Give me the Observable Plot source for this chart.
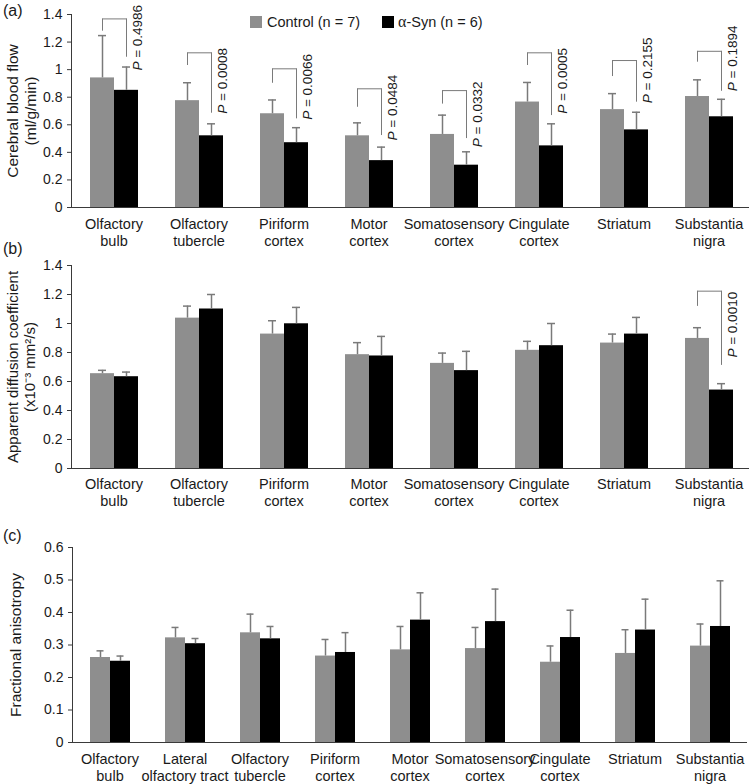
<!DOCTYPE html>
<html><head><meta charset="utf-8">
<script src="https://cdn.jsdelivr.net/npm/d3@7"></script>
<script src="https://cdn.jsdelivr.net/npm/@observablehq/plot@0.6"></script>
<style>
body{margin:0;background:#fff;}
#fig{position:relative;width:749px;height:784px;font-family:"Liberation Sans",Arial,sans-serif;color:#1a1a1a;overflow:hidden;background:#fff}
.panel{position:absolute;left:0}
.plab{position:absolute;left:3px;font-size:16px;line-height:16px}
.leg{position:absolute;font-size:14.5px;line-height:14.5px;white-space:nowrap}
.sw{position:absolute;width:12px;height:12px}
</style></head><body><div id="fig"></div>
<script>
const groups = ["Control", "α-Syn"];
const groupColors = ["#8e8e8e", "#000000"];
const regions8 = ["Olfactory\nbulb","Olfactory\ntubercle","Piriform\ncortex","Motor\ncortex","Somatosensory\ncortex","Cingulate\ncortex","Striatum","Substantia\nnigra"];
const regions9 = ["Olfactory\nbulb","Lateral\nolfactory tract","Olfactory\ntubercle","Piriform\ncortex","Motor\ncortex","Somatosensory\ncortex","Cingulate\ncortex","Striatum","Substantia\nnigra"];

// (a) Cerebral blood flow
const cbfControl    = [0.94, 0.775, 0.68, 0.52, 0.53, 0.765, 0.71, 0.805];
const cbfControlErr = [0.307, 0.13, 0.10, 0.094, 0.14, 0.142, 0.116, 0.121];
const cbfSyn        = [0.85, 0.52, 0.47, 0.34, 0.307, 0.447, 0.563, 0.658];
const cbfSynErr     = [0.169, 0.087, 0.109, 0.098, 0.097, 0.16, 0.128, 0.127];
const cbfP          = ["0.4986","0.0008","0.0066","0.0484","0.0332","0.0005","0.2155","0.1894"];
const cbfBracketTop   = [1.368, 1.122, 1.006, 0.861, 0.848, 1.122, 1.066, 1.133];
const cbfBracketLeft  = [1.279, 1.03, 0.901, 0.727, 0.75, 1.03, 0.95, 1.054];
const cbfBracketRight = [1.09, 0.684, 0.643, 0.522, 0.50, 0.667, 0.764, 0.843];
const cbfPLabelY      = [0.993, 0.68, 0.636, 0.486, 0.437, 0.68, 0.756, 0.843];
const cbfTicks = [0, 0.2, 0.4, 0.6, 0.8, 1, 1.2, 1.4];

// (b) Apparent diffusion coefficient
const adcControl    = [0.654, 1.037, 0.927, 0.785, 0.725, 0.815, 0.865, 0.897];
const adcControlErr = [0.023, 0.083, 0.092, 0.083, 0.071, 0.062, 0.062, 0.074];
const adcSyn        = [0.633, 1.10, 0.998, 0.776, 0.675, 0.847, 0.927, 0.541];
const adcSynErr     = [0.032, 0.10, 0.113, 0.135, 0.133, 0.153, 0.115, 0.044];
const adcBracketRegion = ["Substantia\nnigra"];
const adcP          = ["0.0010"];
const adcBracketTop   = [1.223];
const adcBracketLeft  = [1.118];
const adcBracketRight = [0.711];
const adcPLabelY      = [0.765];
const adcTicks = [0, 0.2, 0.4, 0.6, 0.8, 1, 1.2, 1.4];

// (c) Fractional anisotropy
const faControl    = [0.2615, 0.322, 0.3375, 0.266, 0.285, 0.289, 0.247, 0.274, 0.2966];
const faControlErr = [0.0205, 0.032, 0.0575, 0.051, 0.072, 0.065, 0.05, 0.073, 0.068];
const faSyn        = [0.250, 0.304, 0.319, 0.277, 0.3766, 0.372, 0.323, 0.346, 0.357];
const faSynErr     = [0.016, 0.016, 0.038, 0.061, 0.084, 0.100, 0.084, 0.095, 0.1405];
const faTicks = [0, 0.1, 0.2, 0.3, 0.4, 0.5, 0.6];

const FONT = "'Liberation Sans', Arial, sans-serif";
const AXIS = "#3a3a3a", ERR = "#7a7a7a", TXT = "#1a1a1a";

function panel(cfg) {
  const data = cfg.regions.flatMap((r, i) => [
    {region: r, group: groups[0], value: cfg.ctrl[i], err: cfg.ctrlErr[i]},
    {region: r, group: groups[1], value: cfg.syn[i], err: cfg.synErr[i]}
  ]);
  const br = (cfg.bRegions || []).map((r, i) => ({
    region: r, top: cfg.bTop[i], left: cfg.bLeft[i], right: cfg.bRight[i], ly: cfg.bLabelY[i], p: cfg.p[i]
  }));
  const first = () => cfg.regions[0];
  return Plot.plot({
    width: 749, height: cfg.height,
    marginTop: cfg.marginTop, marginBottom: cfg.marginBottom, marginLeft: 69, marginRight: 0,
    style: {fontFamily: FONT, fontSize: "14px", color: TXT, background: "white", overflow: "visible"},
    fx: {domain: cfg.regions, range: cfg.fxRange, paddingInner: 0, paddingOuter: 0},
    x: {domain: groups, paddingInner: 0, paddingOuter: cfg.pad, axis: null},
    y: {domain: cfg.domain},
    color: {domain: groups, range: groupColors},
    marks: [
      Plot.axisY({ticks: cfg.ticks, tickSize: 4, tickPadding: 5, tickFormat: d => d3.format("~g")(d), label: null, stroke: AXIS, fill: TXT, fontSize: 14}),
      Plot.axisFx({anchor: "bottom", tickSize: 0, tickPadding: cfg.fxPad, lineHeight: 1.17, label: null, fontSize: 14.5, fill: TXT}),
      Plot.barY(data, {fx: "region", x: "group", y: "value", fill: "group"}),
      Plot.ruleX(data, {fx: "region", x: "group", y1: "value", y2: d => d.value + d.err, stroke: ERR, strokeWidth: 1.5}),
      Plot.tickY(data, {fx: "region", x: "group", y: d => d.value + d.err, stroke: ERR, strokeWidth: 1.5, insetLeft: cfg.capInset, insetRight: cfg.capInset}),
      Plot.link(br, {fx: "region", x1: () => groups[0], x2: () => groups[1], y1: "top", y2: "top", stroke: ERR, strokeWidth: 1}),
      Plot.ruleX(br, {fx: "region", x: () => groups[0], y1: "left", y2: "top", stroke: ERR, strokeWidth: 1}),
      Plot.ruleX(br, {fx: "region", x: () => groups[1], y1: "right", y2: "top", stroke: ERR, strokeWidth: 1}),
      Plot.text(br, {fx: "region", x: () => groups[1], y: "ly", text: () => "P", fontStyle: "italic", rotate: -90, textAnchor: "start", lineAnchor: "top", dx: 6, fontSize: 13.5, fill: TXT}),
      Plot.text(br, {fx: "region", x: () => groups[1], y: "ly", text: d => "= " + d.p, rotate: -90, textAnchor: "start", lineAnchor: "top", dx: 6, dy: -12.8, fontSize: 13.5, fill: TXT}),
      Plot.frame({anchor: "left", fx: first, stroke: AXIS}),
      Plot.ruleY([cfg.domain[0]], {stroke: AXIS}),
      Plot.text([cfg.ylabel], {fx: first, text: d => d, frameAnchor: "left", dx: cfg.ylabelX - 69, rotate: -90, textAnchor: "middle", lineAnchor: "top", lineHeight: 1.15, fontSize: cfg.ylabelSize, fill: TXT})
    ]
  });
}

const fig = document.getElementById("fig");
function place(el, top) { const d = document.createElement("div"); d.className = "panel"; d.style.top = top + "px"; d.appendChild(el); fig.appendChild(d); }

place(panel({
  regions: regions8, ctrl: cbfControl, ctrlErr: cbfControlErr, syn: cbfSyn, synErr: cbfSynErr,
  bRegions: regions8, bTop: cbfBracketTop, bLeft: cbfBracketLeft, bRight: cbfBracketRight, bLabelY: cbfPLabelY, p: cbfP,
  domain: [0, 1.4], ticks: cbfTicks, height: 258, marginTop: 14, marginBottom: 51,
  fxRange: [69, 753], pad: 0.767, capInset: 8, fxPad: 9,
  ylabel: "Cerebral blood flow\n(ml/g/min)", ylabelX: 3, ylabelSize: 15.5
}), 0);

place(panel({
  regions: regions8, ctrl: adcControl, ctrlErr: adcControlErr, syn: adcSyn, synErr: adcSynErr,
  bRegions: adcBracketRegion, bTop: adcBracketTop, bLeft: adcBracketLeft, bRight: adcBracketRight, bLabelY: adcPLabelY, p: adcP,
  domain: [0, 1.4], ticks: adcTicks, height: 270, marginTop: 15, marginBottom: 52,
  fxRange: [69, 753], pad: 0.767, capInset: 8, fxPad: 8,
  ylabel: "Apparent diffusion coefficient\n(x10\u207B\u00B3 mm\u00B2/s)", ylabelX: 3, ylabelSize: 15
}), 250);

place(panel({
  regions: regions9, ctrl: faControl, ctrlErr: faControlErr, syn: faSyn, synErr: faSynErr,
  domain: [0, 0.6], ticks: faTicks, height: 264, marginTop: 27, marginBottom: 42,
  fxRange: [69, 750], pad: 0.80, capInset: 6.5, fxPad: 9,
  ylabel: "Fractional anisotropy", ylabelX: 5, ylabelSize: 15.5
}), 520);

function addDiv(cls, css, html) { const d = document.createElement("div"); d.className = cls; d.style.cssText = css; d.innerHTML = html; fig.appendChild(d); }
addDiv("plab", "top:3px", "(a)");
addDiv("plab", "top:241px", "(b)");
addDiv("plab", "top:528px", "(c)");
addDiv("sw", `left:250px;top:16px;background:${groupColors[0]}`, "");
addDiv("leg", "left:267px;top:15.4px", "Control (n = 7)");
addDiv("sw", `left:382px;top:16px;background:${groupColors[1]}`, "");
addDiv("leg", "left:398px;top:15.4px", "<span style=\"font-family:'Liberation Serif',serif;font-size:16px\">α</span>-Syn (n = 6)");
</script></body></html>
